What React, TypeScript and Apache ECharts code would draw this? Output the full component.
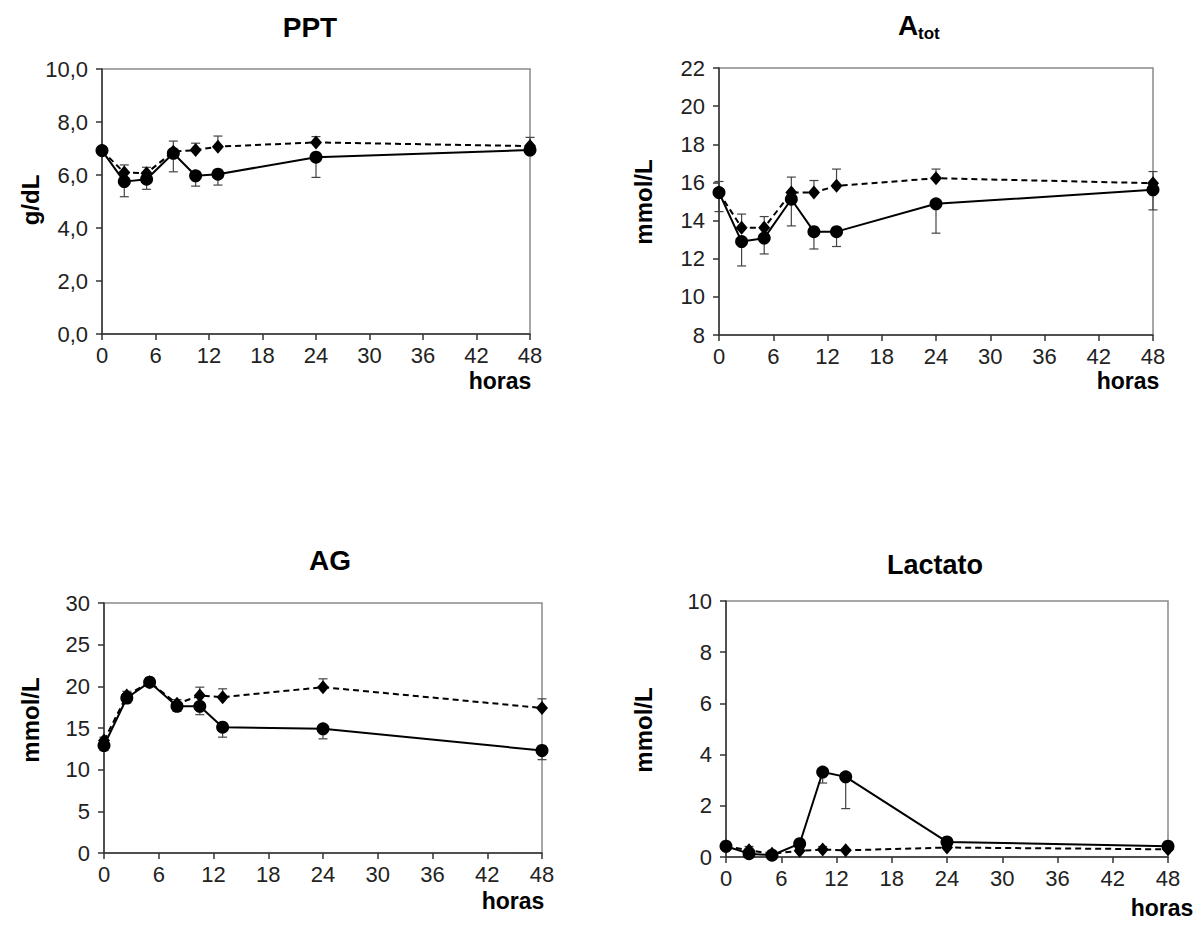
import React, { useEffect, useRef } from "react";
import * as echarts from "echarts";

// ---------- data ----------
const hours = [0, 2.5, 5, 8, 10.5, 13, 24, 48];
const xTickInterval = 6;

const pptSolid = [6.92, 5.75, 5.84, 6.82, 5.97, 6.03, 6.67, 6.94];
const pptSolidErr = [0.15, 0.57, 0.38, 0.7, 0.39, 0.41, 0.76, 0.15];
const pptDashed = [6.92, 6.09, 6.07, 6.88, 6.94, 7.07, 7.23, 7.09];
const pptDashedErr = [0.1, 0.29, 0.22, 0.4, 0.26, 0.4, 0.22, 0.33];

const atotSolid = [15.47, 12.9, 13.08, 15.12, 13.42, 13.42, 14.88, 15.61];
const atotSolidErr = [1.0, 1.28, 0.83, 1.4, 0.91, 0.78, 1.54, 1.05];
const atotDashed = [15.47, 13.63, 13.63, 15.47, 15.47, 15.82, 16.22, 15.96];
const atotDashedErr = [0.58, 0.71, 0.58, 0.81, 0.63, 0.88, 0.48, 0.61];

const agSolid = [12.9, 18.6, 20.5, 17.6, 17.6, 15.1, 14.9, 12.3];
const agSolidErr = [0.6, 0.6, 0.5, 0.6, 1.0, 1.2, 1.2, 1.1];
const agDashed = [13.5, 18.9, 20.5, 17.9, 18.9, 18.7, 19.9, 17.4];
const agDashedErr = [0.4, 0.5, 0.5, 0.5, 1.0, 1.0, 1.0, 1.1];

const lacSolid = [0.42, 0.13, 0.07, 0.52, 3.32, 3.13, 0.59, 0.42];
const lacSolidErr = [0.1, 0.1, 0.05, 0.2, 0.43, 1.24, 0.1, 0.1];
const lacDashed = [0.42, 0.26, 0.13, 0.24, 0.29, 0.26, 0.37, 0.3];
const lacDashedErr = [0.1, 0.15, 0.05, 0.1, 0.12, 0.05, 0.05, 0.05];

const yRanges = [
  { min: 0, max: 10, interval: 2, decimals: 1 },
  { min: 8, max: 22, interval: 2, decimals: 0 },
  { min: 0, max: 30, interval: 5, decimals: 0 },
  { min: 0, max: 10, interval: 2, decimals: 0 },
];
const yNames = ["g/dL", "mmol/L", "mmol/L", "mmol/L"];
const xName = "horas";

// ---------- layout ----------
const grids = [
  { left: 102, top: 69, width: 428, height: 265 },
  { left: 719, top: 68, width: 434, height: 267 },
  { left: 104, top: 603, width: 438, height: 250 },
  { left: 726, top: 601, width: 442, height: 256 },
];
const yNamePos = [
  [30, 200],
  [643, 202],
  [30, 720],
  [643, 730],
];
const horasPos = [
  [500, 381],
  [1128, 381],
  [513, 901],
  [1162, 908],
];

const FONT = "'Liberation Sans', Arial, sans-serif";
const INK = "#000";
const TXT = "#222";

function errData(vals: number[], errs: number[], sign: number) {
  return hours.map((h, i) => [h, vals[i], vals[i] + sign * errs[i]]);
}

function errorSeries(idx: number, vals: number[], errs: number[], sign: number) {
  return {
    type: "custom",
    xAxisIndex: idx,
    yAxisIndex: idx,
    z: 1,
    silent: true,
    encode: { x: 0, y: [1, 2] },
    data: errData(vals, errs, sign),
    renderItem: (params: any, api: any) => {
      const p0 = api.coord([api.value(0), api.value(1)]);
      const p1 = api.coord([api.value(0), api.value(2)]);
      const c = 4.5;
      const st = { stroke: "#444", lineWidth: 1.2 };
      return {
        type: "group",
        children: [
          { type: "line", shape: { x1: p0[0], y1: p0[1], x2: p1[0], y2: p1[1] }, style: st },
          { type: "line", shape: { x1: p1[0] - c, y1: p1[1], x2: p1[0] + c, y2: p1[1] }, style: st },
        ],
      };
    },
  };
}

export default function App() {
  const ref = useRef<HTMLDivElement>(null);
  useEffect(() => {
    if (!ref.current) return;
    const chart = echarts.init(ref.current, undefined, { renderer: "svg" });
    const panels = [
      [pptSolid, pptSolidErr, pptDashed, pptDashedErr],
      [atotSolid, atotSolidErr, atotDashed, atotDashedErr],
      [agSolid, agSolidErr, agDashed, agDashedErr],
      [lacSolid, lacSolidErr, lacDashed, lacDashedErr],
    ];

    const series: any[] = [];
    panels.forEach((p, i) => {
      const [s, se, d, de] = p;
      series.push(errorSeries(i, s, se, -1));
      series.push(errorSeries(i, d, de, 1));
      series.push({
        type: "line",
        xAxisIndex: i,
        yAxisIndex: i,
        z: 3,
        data: hours.map((h, k) => [h, d[k]]),
        symbol: "diamond",
        symbolSize: [12, 14],
        lineStyle: { color: INK, width: 2, type: [6, 4] },
        itemStyle: { color: INK },
      });
      series.push({
        type: "line",
        xAxisIndex: i,
        yAxisIndex: i,
        z: 4,
        data: hours.map((h, k) => [h, s[k]]),
        symbol: "circle",
        symbolSize: 13,
        lineStyle: { color: INK, width: 2 },
        itemStyle: { color: INK },
      });
    });

    const titleStyle = { fontFamily: FONT, fontWeight: "bold", fill: "#000" };
    const graphic: any[] = [
      { type: "text", x: 310, y: 27, style: { ...titleStyle, text: "PPT", fontSize: 28, textAlign: "center", textVerticalAlign: "middle" } },
      { type: "text", x: 898, y: 25, style: { ...titleStyle, text: "A", fontSize: 28, textAlign: "left", textVerticalAlign: "middle" } },
      { type: "text", x: 918, y: 33, style: { ...titleStyle, text: "tot", fontSize: 17, textAlign: "left", textVerticalAlign: "middle" } },
      { type: "text", x: 330, y: 560, style: { ...titleStyle, text: "AG", fontSize: 28, textAlign: "center", textVerticalAlign: "middle" } },
      { type: "text", x: 935, y: 565, style: { ...titleStyle, text: "Lactato", fontSize: 27, textAlign: "center", textVerticalAlign: "middle" } },
    ];
    yNamePos.forEach(([x, y], i) => {
      graphic.push({
        type: "text", x, y, rotation: Math.PI / 2,
        style: { ...titleStyle, text: yNames[i], fontSize: 24, textAlign: "center", textVerticalAlign: "middle" },
      });
    });
    horasPos.forEach(([x, y]) => {
      graphic.push({
        type: "text", x, y,
        style: { ...titleStyle, text: xName, fontSize: 23, textAlign: "center", textVerticalAlign: "middle" },
      });
    });

    chart.setOption({
      animation: false,
      backgroundColor: "#fff",
      grid: grids.map((g) => ({ ...g, show: true, borderColor: "#8a8a8a", borderWidth: 1.5, backgroundColor: "transparent" })),
      xAxis: grids.map((_, i) => ({
        type: "value",
        gridIndex: i,
        min: 0,
        max: 48,
        interval: xTickInterval,
        axisLine: { show: true, onZero: false, lineStyle: { color: "#333", width: 1.5 } },
        axisTick: { show: true, inside: false, length: 6, lineStyle: { color: "#333", width: 1.5 } },
        axisLabel: { color: TXT, fontSize: 22, fontFamily: FONT, margin: 10 },
        splitLine: { show: false },
      })),
      yAxis: yRanges.map((r, i) => ({
        type: "value",
        gridIndex: i,
        min: r.min,
        max: r.max,
        interval: r.interval,
        axisLine: { show: true, lineStyle: { color: "#333", width: 1.5 } },
        axisTick: { show: true, inside: false, length: 6, lineStyle: { color: "#333", width: 1.5 } },
        axisLabel: {
          color: TXT,
          fontSize: 22,
          fontFamily: FONT,
          margin: 14,
          formatter: (v: number) => v.toFixed(r.decimals).replace(".", ","),
        },
        splitLine: { show: false },
      })),
      series,
      graphic,
    });
    return () => chart.dispose();
  }, []);
  return <div ref={ref} style={{ position: "fixed", left: 0, top: 0, width: 1194, height: 944, background: "#fff" }} />;
}
